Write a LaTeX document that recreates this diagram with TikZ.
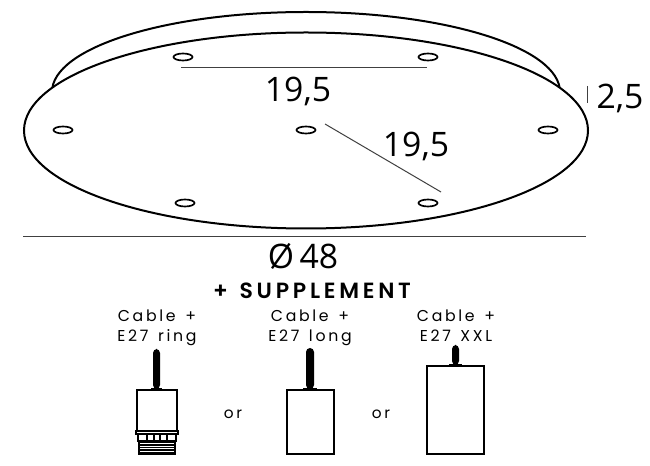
\documentclass[tikz,border=0pt]{standalone}
\usepackage{fontspec}
\setmainfont{Open Sans}
\newfontfamily\labfont[LetterSpace=17,WordSpace=1.4]{Poppins}
\newfontfamily\headfont[LetterSpace=17,WordSpace=1.3]{Poppins SemiBold}
\begin{document}
\begin{tikzpicture}[x=0.75pt,y=-0.75pt,
  disc/.style={draw=black,line width=1.5pt,fill=white},
  hole/.style={draw=black,line width=1.25pt,fill=white},
  dimline/.style={draw=black!75,line width=0.75pt},
  dimtext/.style={font=\fontsize{25.3}{26}\selectfont,inner sep=0pt},
  caplabel/.style={font=\labfont\fontsize{11.8}{15}\selectfont,align=center,inner sep=0pt},
  orlabel/.style={font=\labfont\fontsize{11.5}{12}\selectfont,inner sep=0pt},
  boxpart/.style={draw=black,line width=0.9pt,fill=white},
  cablepart/.style={draw=none,fill=black}]
\useasboundingbox (0,0) rectangle (650,466);
% discs
\draw[disc] (306,92) ellipse [x radius=254,y radius=80];
\draw[disc] (306,130.5) ellipse [x radius=282,y radius=98];
% holes
\foreach \n/\x/\y in {a/183/57,b/428/57,c/63/130,d/306/130,e/548/130,f/185/203,g/428/203}
  \draw[hole] (\x,\y) ellipse [x radius=9.5,y radius=3.5];
% dimension lines
\coordinate (d1a) at (181,68); \coordinate (d1b) at (427,68);
\coordinate (d2a) at (325,124); \coordinate (d2b) at (441,192);
\coordinate (d3a) at (587,86); \coordinate (d3b) at (587,103);
\coordinate (d4a) at (23,237); \coordinate (d4b) at (586,237);
\draw[dimline] (d1a)--(d1b);
\draw[dimline] (d2a)--(d2b);
\draw[dimline] (d3a)--(d3b);
\draw[dimline] (d4a)--(d4b);
\node[dimtext] (t1) at (298,91.5) {19,5};
\node[dimtext] (t2) at (416,146) {19,5};
\node[dimtext] (t3) at (620,98) {2,5};
\node[dimtext] (t4) at (303,256) {Ø\,48};
\node[font=\headfont\fontsize{16.5}{16}\selectfont,inner sep=0pt] (t5) at (312,291) {+ SUPPLEMENT};
\node[caplabel] (c1) at (157,327.5) {Cable +\\E27 ring};
\node[caplabel] (c2) at (310,327.5) {Cable +\\E27 long};
\node[caplabel] (c3) at (456,325.5) {Cable +\\E27 XXL};
\node[orlabel] (o1) at (233,414) {or};
\node[orlabel] (o2) at (381,414) {or};
% ring lamp
\draw[cablepart,rounded corners=3pt] (153,389)--(153,349)--(160,349)--(160,389)--cycle;
\fill (151,388) rectangle (162,391);
\draw[boxpart] (137,390) rectangle (177,431);
\draw[boxpart] (136,431) rectangle (178,434);
\draw[boxpart] (138,434) rectangle (176,441);
\foreach \x in {146,153,159,166} \fill (\x,434) rectangle +(1.5,7);
\draw[black,line width=.9pt] (139,441)--(139,454)--(175,454)--(175,441);
\foreach \y in {442.5,445,447.5,450,452.5} \draw[line width=1pt] (138,\y)--(176,\y);
% long lamp
\draw[cablepart,rounded corners=3pt] (306,389)--(306,348)--(314,348)--(314,389)--cycle;
\fill (303,388) rectangle (317,391);
\draw[boxpart] (287,390) rectangle (334,454);
% xxl lamp
\draw[cablepart,rounded corners=3pt] (452,365)--(452,345)--(459,345)--(459,365)--cycle;
\fill (449,364) rectangle (462,367);
\draw[boxpart] (427,366) rectangle (484,454);
\end{tikzpicture}
\end{document}
